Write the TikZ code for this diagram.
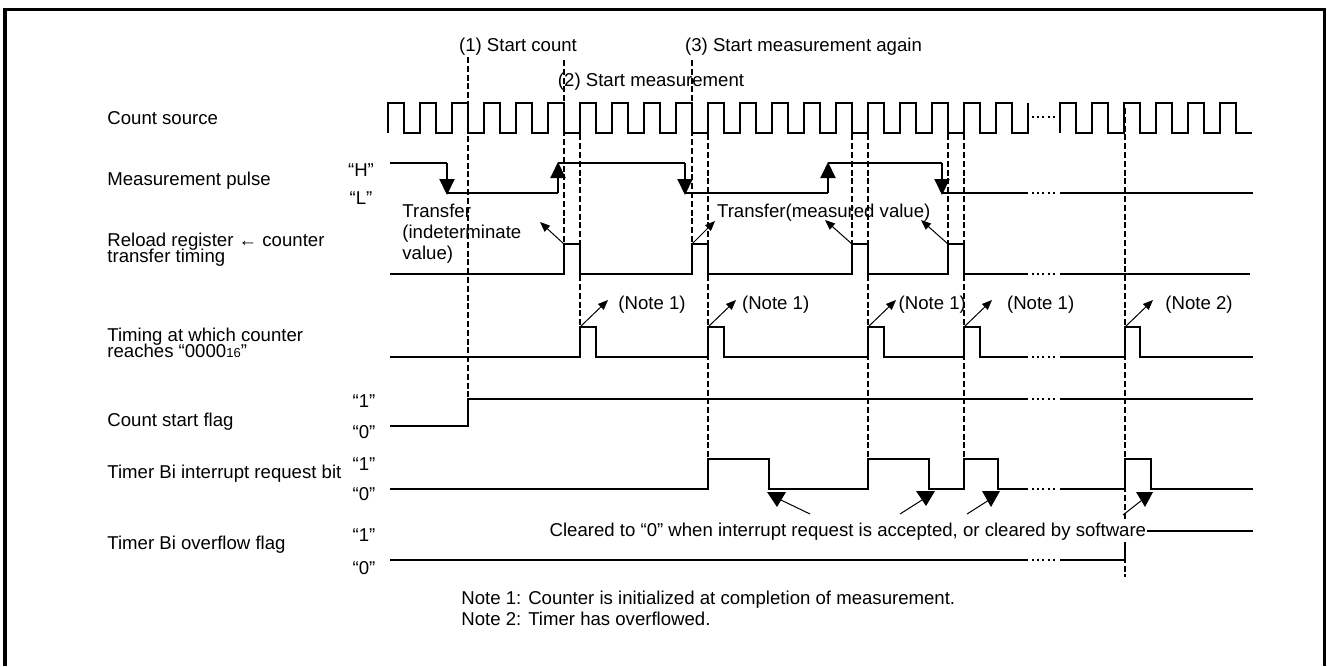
\documentclass[tikz,border=0pt]{standalone}
\usepackage{fontspec}
\setmainfont{Liberation Sans}
\usetikzlibrary{arrows.meta}

\begin{document}
\begin{tikzpicture}[x=0.5pt,y=-0.5pt,
  font=\fontsize{9.3}{10.5}\selectfont,
  sig/.style={line width=1pt},
  brk/.style={line width=1pt,dash pattern=on 1pt off 1.6pt},
  guide/.style={line width=0.6pt,dash pattern=on 3pt off 1.4pt},
  edgearrow/.style={sig,-{Triangle[length=8pt,width=7.5pt]}},
  lead/.style={line width=0.5pt,-{Triangle[length=5pt,width=4pt]}},
  leadline/.style={line width=0.5pt},
  lbl/.style={anchor=base west,inner sep=0pt},
  lvl/.style={anchor=base,inner sep=0pt},
  twoline/.style={lbl,anchor=north west,align=left}]
  \useasboundingbox (0,0) rectangle (1327,666);

  % Frame
  \draw[line width=1.8pt] (5,666) -- (5,9.5) -- (1324.5,9.5) -- (1324.5,666);

  % Guide lines
  \foreach \gx/\gtop/\gbot in {468/57/399, 564/60/244, 580/108/327, 692/60/244, 708/108/459,
      852/108/244, 868/108/459, 948/108/244, 964/108/459, 1125/108/577}
    \draw[guide] (\gx,\gtop) -- (\gx,\gbot);

  % Events
  \node[lvl] (ev1) at (518,51.5) {(1) Start count};
  \node[lvl] (ev3) at (803.5,51.5) {(3) Start measurement again};
  \node[lvl] (ev2) at (651,86.5) {(2) Start measurement};

  % Signal names
  \node[lbl] (nsrc) at (107,124.5) {Count source};
  \node[lbl] (npls) at (107,185.5) {Measurement pulse};
  \node[twoline] (nrld) at (107,233) {Reload register ← counter\\[-2.5pt]transfer timing};
  \node[twoline] (ntim) at (107,328) {Timing at which counter\\[-2.5pt]reaches “0000{\fontsize{6.5}{7}\selectfont 16}”};
  \node[lbl] (nflg) at (107,426.5) {Count start flag};
  \node[lbl] (nirq) at (107,478) {Timer Bi interrupt request bit};
  \node[lbl] (novf) at (107,549.5) {Timer Bi overflow flag};

  % Levels
  \node[lvl] (hH) at (361,176.5) {“H”};
  \node[lvl] (hL) at (361,204.5) {“L”};
  \node[lvl] (f1) at (364,407.5) {“1”};
  \node[lvl] (f0) at (364,438.5) {“0”};
  \node[lvl] (i1) at (364,470) {“1”};
  \node[lvl] (i0) at (364,500) {“0”};
  \node[lvl] (o1) at (364,541.5) {“1”};
  \node[lvl] (o0) at (364,574) {“0”};

  % Count source
  \draw[sig] (388,132.7) foreach \k in {1,...,20} { -- ++(0,-29.4) -- ++(16,0) -- ++(0,29.4) -- ++(16,0) } -- ++(0,-29.4);
  \draw[brk] (1032,117) -- (1058,117);
  \draw[sig] (1060,132.7) foreach \k in {1,...,6} { -- ++(0,-29.4) -- ++(16,0) -- ++(0,29.4) -- ++(16,0) };

  % Measurement pulse
  \draw[sig] (390,163) -- (447,163);
  \draw[edgearrow] (447,163) -- (447,195);
  \draw[sig] (447,193) -- (558,193);
  \draw[edgearrow] (558,193) -- (558,162);
  \draw[sig] (558,163) -- (685,163);
  \draw[edgearrow] (685,163) -- (685,195);
  \draw[sig] (685,193) -- (828,193);
  \draw[edgearrow] (828,193) -- (828,162);
  \draw[sig] (828,163) -- (942,163);
  \draw[edgearrow] (942,163) -- (942,195);
  \draw[sig] (942,193) -- (1028,193);
  \draw[brk] (1032,193) -- (1058,193);
  \draw[sig] (1060,193) -- (1253,193);

  % Reload register <- counter
  \draw[sig] (390,274) -| (564,244) -| (580,274) -| (692,244) -| (708,274) -| (852,244)
    -| (868,274) -| (948,244) -| (964,274) -- (1028,274);
  \draw[brk] (1032,274) -- (1058,274);
  \draw[sig] (1060,274) -- (1250,274);
  \coordinate (r1) at (564,244);
  \coordinate (r2) at (692,244);
  \coordinate (r3) at (852,244);
  \coordinate (r4) at (948,244);
  \node[lbl,anchor=north west,align=left] (tr1) at (402,203.4) {Transfer\\(indeterminate\\value)};
  \node[lbl] (tr2) at (716.7,217.5) {Transfer(measured value)};
  \draw[lead] (r1) -- ++(-24,-22);
  \draw[lead] (r2) -- ++(23,-23);
  \draw[lead] (r3) -- ++(-27,-24);
  \draw[lead] (r4) -- ++(-27,-24);

  % Counter reaches 0000
  \draw[sig] (390,357) -| (580,327) -| (596,357) -| (708,327) -| (724,357) -| (868,327)
    -| (884,357) -| (964,327) -| (980,357) -- (1028,357);
  \draw[brk] (1032,357) -- (1058,357);
  \draw[sig] (1060,357) -| (1125,327) -| (1140,357) -- (1253,357);
  \coordinate (t1) at (580,327);
  \coordinate (t2) at (708,327);
  \coordinate (t3) at (868,327);
  \coordinate (t4) at (964,327);
  \coordinate (t5) at (1125,327);
  \node[lbl] (n1) at (618,309.8) {(Note 1)};
  \node[lbl] (n2) at (741.7,309.8) {(Note 1)};
  \node[lbl] (n3) at (898.3,309.8) {(Note 1)};
  \node[lbl] (n4) at (1006.7,309.8) {(Note 1)};
  \node[lbl] (n5) at (1165,309.8) {(Note 2)};
  \foreach \t in {t1,t2,t3,t4,t5}
    \draw[lead] (\t) -- ++(28,-27);

  % Count start flag
  \draw[sig] (390,426) -| (468,399) -- (1028,399);
  \draw[brk] (1032,399) -- (1058,399);
  \draw[sig] (1060,399) -- (1253,399);

  % Interrupt request bit
  \draw[sig] (390,489) -| (708,459) -| (769,489) -| (868,459) -| (929,489) -| (964,459)
    -| (998,489) -- (1028,489);
  \draw[brk] (1032,489) -- (1058,489);
  \draw[sig] (1060,489) -| (1125,459) -| (1151,489) -- (1253,489);

  % Overflow flag
  \draw[sig] (390,560) -- (1028,560);
  \draw[brk] (1032,560) -- (1058,560);
  \draw[sig] (1060,560) -| (1125,531) -- (1253,531);

  % Cleared note
  \node[lbl,fill=white,inner sep=0.6pt] (clr) at (548,536.5) {Cleared to “0” when interrupt request is accepted, or cleared by software};
  \draw[leadline] (810,514) -- (781,500);
  \draw[leadline] (900,514) -- (922,500);
  \draw[leadline] (967,514) -- (989,500);
  \draw[leadline] (1123,515) -- (1142,500);
  \fill (767,492) -- (786,492) -- (777,507) -- cycle;
  \fill (916,491) -- (935,491) -- (926,506) -- cycle;
  \fill (982,491) -- (1000,491) -- (991,507) -- cycle;
  \fill (1136,492) -- (1153,492) -- (1145,507) -- cycle;

  % Notes
  \node[lbl,anchor=north west,align=left] (notes) at (461,591) {Note 1: Counter is initialized at completion of measurement.\\Note 2: Timer has overflowed.};
\end{tikzpicture}
\end{document}
